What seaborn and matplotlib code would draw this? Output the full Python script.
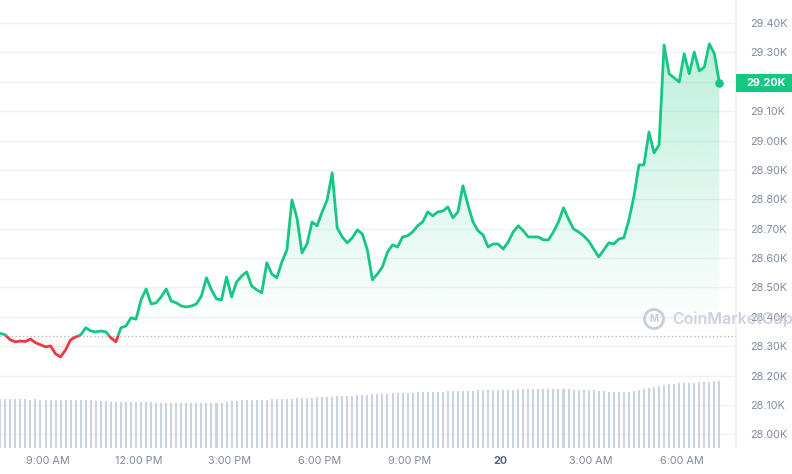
import numpy as np
import pandas as pd
import matplotlib
matplotlib.use("Agg")
import matplotlib.pyplot as plt
import matplotlib.dates as mdates
from matplotlib.patches import Rectangle, Circle
from matplotlib.path import Path
from matplotlib.colors import to_rgb
from matplotlib.transforms import blended_transform_factory
import seaborn as sns

# BTC price, 10 minute steps, 24h window
start_time = "2023-04-19 07:25"
step = "10min"
open_price = 28336

price = [
    28344, 28339, 28322, 28315, 28318, 28316, 28325, 28312, 28305, 28298,
    28301, 28274, 28264, 28288, 28322, 28332, 28339, 28363, 28352, 28349,
    28352, 28349, 28329, 28315, 28363, 28369, 28397, 28392, 28458, 28495,
    28444, 28448, 28468, 28495, 28454, 28448, 28437, 28434, 28437, 28444,
    28471, 28533, 28492, 28461, 28458, 28536, 28468, 28519, 28539, 28553,
    28505, 28492, 28482, 28584, 28546, 28533, 28587, 28628, 28798, 28737,
    28618, 28648, 28723, 28710, 28757, 28798, 28890, 28703, 28672, 28652,
    28669, 28696, 28682, 28628, 28526, 28546, 28570, 28621, 28645, 28638,
    28672, 28676, 28689, 28710, 28723, 28757, 28744, 28757, 28760, 28774,
    28737, 28757, 28846, 28781, 28723, 28693, 28679, 28638, 28648, 28648,
    28631, 28655, 28689, 28710, 28693, 28672, 28672, 28672, 28662, 28662,
    28689, 28723, 28771, 28733, 28699, 28689, 28676, 28658, 28631, 28604,
    28628, 28652, 28648, 28665, 28669, 28730, 28810, 28917, 28917, 29029,
    28958, 28985, 29325, 29227, 29213, 29199, 29295, 29227, 29301, 29237,
    29250, 29329, 29295, 29196,
]

# 24h volume, billions USD
volume = [
    14.7, 14.7, 14.6, 14.7, 14.6, 14.6, 14.5, 14.6, 14.5, 14.5,
    14.4, 14.5, 14.4, 14.4, 14.4, 14.3, 14.4, 14.3, 14.3, 14.1,
    14.0, 14.0, 13.9, 13.9, 13.9, 13.8, 13.8, 13.8, 13.8, 13.7,
    13.7, 13.6, 13.6, 13.6, 13.5, 13.5, 13.5, 13.5, 13.4, 13.4,
    13.4, 13.4, 13.4, 13.4, 13.5, 13.7, 14.0, 14.2, 14.3, 14.3,
    14.4, 14.4, 14.5, 14.5, 14.6, 14.6, 14.7, 14.7, 14.8, 14.9,
    15.0, 15.0, 15.1, 15.2, 15.3, 15.3, 15.4, 15.5, 15.5, 15.6,
    15.7, 15.8, 15.9, 16.0, 16.1, 16.2, 16.3, 16.3, 16.4, 16.4,
    16.5, 16.6, 16.6, 16.7, 16.7, 16.8, 16.8, 16.9, 16.9, 17.0,
    17.0, 17.1, 17.1, 17.2, 17.2, 17.3, 17.3, 17.4, 17.4, 17.4,
    17.5, 17.5, 17.5, 17.6, 17.6, 17.6, 17.6, 17.7, 17.7, 17.7,
    17.7, 17.6, 17.6, 17.6, 17.5, 17.5, 17.5, 17.4, 17.3, 17.1,
    17.0, 16.9, 16.8, 16.8, 16.8, 16.9, 17.1, 17.3, 17.6, 17.9,
    18.2, 18.5, 18.9, 19.1, 19.3, 19.4, 19.5, 19.5, 19.6, 19.7,
    19.8, 19.9, 20.0, 20.1,
]

price_ticks = [28000, 28100, 28200, 28300, 28400, 28500, 28600, 28700,
               28800, 28900, 29000, 29100, 29200, 29300, 29400]
time_ticks = ["2023-04-19 09:00", "2023-04-19 12:00", "2023-04-19 15:00",
              "2023-04-19 18:00", "2023-04-19 21:00", "2023-04-20 00:00",
              "2023-04-20 03:00", "2023-04-20 06:00"]
time_labels = ["9:00 AM", "12:00 PM", "3:00 PM", "6:00 PM", "9:00 PM",
               "20", "3:00 AM", "6:00 AM"]

GREEN = "#16c784"
RED = "#ea3943"
LABEL = "#808a9d"
GRID = "#eff2f5"

df = pd.DataFrame({
    "time": pd.date_range(start_time, periods=len(price), freq=step),
    "price": price,
    "volume": volume,
})

sns.set_theme(style="white")
plt.rcParams["font.family"] = ["Inter", "DejaVu Sans"]

fig = plt.figure(figsize=(7.92, 4.74), dpi=100)
ax = fig.add_axes([0, 26 / 474, 736 / 792, 448 / 474])
ax2 = ax.twinx()  # volume, made first so it doesn't move the price ticks

xlim = (pd.Timestamp("2023-04-19 07:24:30"), pd.Timestamp("2023-04-20 07:48"))
ylim = (27954, 29478)
x0, x1 = mdates.date2num(xlim[0]), mdates.date2num(xlim[1])

# price line, green above the open, red below
for color, lo, hi in [(GREEN, open_price, ylim[1] + 1000), (RED, ylim[0] - 1000, open_price)]:
    sns.lineplot(data=df, x="time", y="price", color=color, lw=2, ax=ax, zorder=4)
    clip = Rectangle((x0, lo), x1 - x0, hi - lo, transform=ax.transData)
    ax.lines[-1].set_clip_path(clip)

# gradient fills between line and open price
poly = ax.fill_between(df["time"], df["price"], open_price, facecolor="none", edgecolor="none")
fill_path = Path.make_compound_path(*poly.get_paths())


def gradient(color, a_bottom, a_top):
    rgba = np.zeros((256, 1, 4))
    rgba[..., :3] = to_rgb(color)
    rgba[:, 0, 3] = np.linspace(a_bottom, a_top, 256)
    return rgba


im = ax.imshow(gradient(GREEN, 0.0, 0.32), extent=[x0, x1, open_price, ylim[1]],
               origin="lower", aspect="auto", zorder=2)
im.set_clip_path(fill_path, ax.transData)
im = ax.imshow(gradient(RED, 0.6, 0.0), extent=[x0, x1, ylim[0], open_price],
               origin="lower", aspect="auto", zorder=2)
im.set_clip_path(fill_path, ax.transData)

ax.axhline(open_price, color="#a6b0c3", lw=0.9, ls=(0, (1, 2)), zorder=3)
ax.scatter(df["time"].iloc[-1], price[-1], s=38, color=GREEN, zorder=5, linewidths=0)

ax.set_xlim(*xlim)
ax.set_ylim(*ylim)

ax.yaxis.tick_right()
ax.set_yticks(price_ticks)
ax.set_yticklabels([f"{v / 1000:.2f}K" for v in price_ticks])
ax.tick_params(axis="y", length=0, pad=10, labelsize=7.8, labelcolor=LABEL)
ax.set_xticks(pd.to_datetime(time_ticks))
ax.set_xticklabels(time_labels)
ax.tick_params(axis="x", length=0, pad=6, labelsize=7.8, labelcolor=LABEL)
lab = ax.get_xticklabels()[time_labels.index("20")]
lab.set_fontweight("bold")
lab.set_color("#58667e")
ax.set_xlabel("")
ax.set_ylabel("")
ax.grid(axis="y", color=GRID, lw=1)
ax.set_axisbelow(True)
for side in ["top", "left", "bottom"]:
    ax.spines[side].set_visible(False)
ax.spines["right"].set_color(GRID)

# volume bars
ax2.bar(df["time"], df["volume"], width=pd.Timedelta(minutes=4.0), color="#cbd3e0", linewidth=0)
ax2.set_ylim(0, df["volume"].max() * 6.7)
ax2.set_xlim(*xlim)
ax2.set_axis_off()

# last price tag
span = (ylim[1] - ylim[0]) * 18 / 448
tag_tr = blended_transform_factory(ax.transAxes, ax.transData)
ax.add_patch(Rectangle((1.0, price[-1] - span / 2), 56 / 736, span, transform=tag_tr,
                       facecolor=GREEN, edgecolor="none", clip_on=False, zorder=6))
ax.text(1.0 + 10 / 736, price[-1], f"{price[-1] / 1000:.2f}K", transform=tag_tr,
        ha="left", va="center", color="white", fontsize=7.8, fontweight="bold", zorder=7)

# watermark
fig.patches.append(Circle((6.54, 1.55), 0.095, transform=fig.dpi_scale_trans,
                          fill=False, ec="#c8ced9", lw=2))
fig.text(6.54 / 7.92, 1.55 / 4.74, "M", ha="center", va="center", fontsize=7,
         fontweight="bold", color="#c8ced9")
fig.text(672 / 792, 1.55 / 4.74, "CoinMarketCap", ha="left", va="center",
         fontsize=11.5, fontweight="semibold", color="#c8ced9", alpha=0.9)

fig.savefig("out.png", dpi=100)
